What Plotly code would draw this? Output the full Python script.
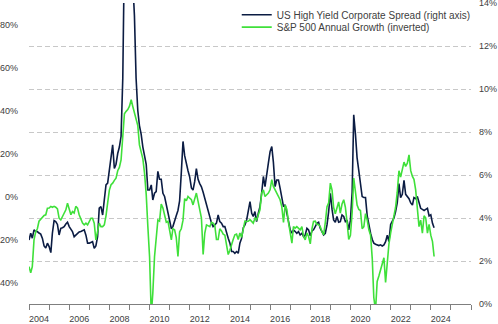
import pandas as pd
import plotly.graph_objects as go

# Monthly data, Jan 2004 - Mar 2024
spread_by_year = {
    2004: [2.98, 3.29, 3.06, 3.45, 3.37, 3.37, 3.30, 3.25, 3.05, 2.70, 2.60, 2.83],
    2005: [2.67, 2.39, 3.29, 3.88, 3.83, 3.70, 3.21, 3.52, 3.55, 3.60, 3.72, 3.80],
    2006: [3.60, 3.50, 3.37, 3.13, 3.20, 3.29, 3.35, 3.37, 3.40, 3.45, 3.20, 2.83],
    2007: [2.83, 2.85, 2.90, 2.59, 2.70, 3.13, 4.46, 4.53, 4.14, 4.84, 5.54, 5.62],
    2008: [6.20, 6.80, 7.40, 6.30, 6.50, 7.00, 7.30, 7.80, 10.5, 16.5, 19.5, 20.5],
    2009: [18.5, 17.5, 15.0, 13.4, 10.5, 9.00, 8.30, 7.90, 7.30, 6.80, 6.50, 5.30],
    2010: [5.30, 5.54, 4.84, 5.15, 5.23, 6.17, 5.80, 5.80, 5.15, 5.00, 4.60, 4.20],
    2011: [3.95, 3.50, 3.60, 3.90, 4.10, 4.35, 4.80, 6.10, 7.56, 6.90, 6.50, 6.20],
    2012: [5.90, 5.40, 5.30, 5.70, 6.30, 5.80, 5.60, 5.45, 5.20, 4.90, 4.70, 4.40],
    2013: [3.99, 3.76, 3.60, 3.70, 3.76, 4.14, 3.83, 3.76, 3.60, 3.60, 3.29, 3.06],
    2014: [2.83, 2.44, 2.44, 2.36, 2.44, 2.36, 2.83, 3.05, 3.55, 3.68, 3.91, 4.25],
    2015: [4.76, 4.22, 4.07, 4.30, 3.83, 4.22, 4.53, 5.15, 5.93, 5.46, 5.93, 6.55],
    2016: [7.09, 7.32, 6.60, 5.46, 5.77, 5.77, 5.39, 4.92, 4.53, 4.61, 4.22, 3.91],
    2017: [3.45, 3.29, 3.45, 3.37, 3.29, 3.37, 3.21, 3.29, 3.13, 3.21, 3.52, 3.45],
    2018: [3.17, 3.40, 3.45, 3.60, 3.75, 3.80, 3.52, 3.37, 3.21, 3.29, 3.68, 4.30],
    2019: [5.15, 4.40, 3.91, 3.80, 4.07, 3.80, 3.83, 4.14, 4.07, 3.83, 3.90, 3.45],
    2020: [3.90, 5.20, 8.80, 7.90, 6.80, 6.20, 5.60, 5.00, 4.95, 4.95, 4.10, 3.65],
    2021: [3.29, 3.00, 2.83, 2.78, 2.75, 2.72, 2.75, 2.70, 2.75, 2.90, 3.20, 2.90],
    2022: [3.70, 3.90, 3.99, 4.30, 4.70, 5.60, 4.95, 5.10, 5.75, 5.10, 5.00, 4.90],
    2023: [4.70, 4.60, 4.95, 4.90, 5.00, 4.70, 4.45, 4.40, 4.35, 4.40, 4.45, 4.10],
    2024: [4.15, 3.75, 3.55],
}

sp500_growth_by_year = {
    2004: [32.6, 35.5, 32.6, 20.2, 16.5, 15.0, 11.5, 10.5, 9.5, 8.8, 8.5, 5.5],
    2005: [5.4, 4.6, 5.0, 4.6, 5.0, 5.8, 10.1, 10.9, 9.3, 7.7, 6.2, 3.1],
    2006: [6.2, 8.5, 7.0, 7.7, 4.6, 5.4, 8.5, 10.9, 12.4, 13.2, 12.4, 13.2],
    2007: [11.6, 10.1, 10.1, 12.4, 20.2, 15.5, 12.4, 14.0, 14.0, 13.2, 9.0, 3.0],
    2008: [-3.0, -5.5, -6.2, -7.5, -8.5, -12.0, -13.5, -17.0, -29.5, -38.5, -39.6, -40.4],
    2009: [-42.0, -45.0, -42.0, -38.5, -36.5, -33.0, -24.0, -20.5, -17.5, -11.0, -1.0, 14.0],
    2010: [28.0, 55.0, 45.0, 28.0, 19.0, 11.0, 11.5, 3.5, 5.4, 9.0, 12.0, 11.5],
    2011: [15.5, 20.2, 15.0, 15.5, 19.0, 27.9, 16.5, 15.0, 11.0, 1.0, 2.0, 0.0],
    2012: [0.8, 1.5, 3.9, 0.8, -1.6, 2.3, 6.0, 10.0, 27.0, 17.0, 13.2, 13.6],
    2013: [14.0, 12.0, 12.4, 13.5, 20.0, 20.0, 15.0, 16.0, 17.5, 18.0, 22.0, 27.0],
    2014: [25.0, 21.7, 20.0, 17.8, 17.5, 20.0, 17.0, 19.0, 15.0, 11.5, 11.6, 11.5],
    2015: [10.8, 11.6, 12.4, 10.1, 10.8, 8.5, 6.2, -1.6, -3.1, 0.0, -0.8, -1.6],
    2016: [-3.1, -7.8, -4.7, -3.1, -2.3, 0.0, 1.5, 4.7, 12.0, 4.0, 6.0, 12.0],
    2017: [17.0, 21.7, 14.0, 14.7, 14.0, 14.7, 15.5, 14.0, 18.6, 20.2, 17.0, 18.6],
    2018: [22.0, 15.0, 11.6, 11.5, 13.0, 13.0, 14.0, 16.3, 17.8, 12.0, 4.7, 3.0],
    2019: [-6.2, -3.0, 5.0, 8.0, 5.0, 2.5, 7.7, 3.5, 1.5, 5.0, 12.0, 20.0],
    2020: [18.0, 7.5, -8.6, -1.0, 4.0, 6.0, 6.5, 15.0, 14.0, 8.0, 11.0, 15.5],
    2021: [18.0, 29.0, 47.0, 53.0, 39.5, 37.0, 34.3, 30.5, 28.5, 40.0, 28.5, 22.0],
    2022: [17.0, 13.0, 10.0, 5.0, -2.0, -12.0, -9.0, -12.0, -16.0, -14.0, -15.5, -19.4],
    2023: [-12.0, -9.3, -8.0, -3.1, 4.0, 14.0, 11.0, 17.0, 9.0, 10.0, 17.0, 13.0],
    2024: [18.0, 21.0, 27.9],
}

spread = [v for y in sorted(spread_by_year) for v in spread_by_year[y]]
sp500_growth = [v for y in sorted(sp500_growth_by_year) for v in sp500_growth_by_year[y]]
dates = pd.date_range("2004-01-01", periods=len(spread), freq="MS")

left_tickvals = [-80, -60, -40, -20, 0, 20, 40]
left_ticktext = ["-80%", "-60%", "-40%", "-20%", "0%", "20%", "40%"]
right_tickvals = [0, 2, 4, 6, 8, 10, 12, 14]
right_ticktext = ["0%", "2%", "4%", "6%", "8%", "10%", "12%", "14%"]

NAVY = "#0b1c43"
GREEN = "#3fe03a"
TEXT = "#404040"
FONT = "Liberation Sans"
LEGEND_FONT = dict(family="Liberation Sans Narrow, " + FONT, size=10, color=TEXT)

fig = go.Figure()
fig.add_trace(go.Scatter(
    x=dates, y=spread, yaxis="y", mode="lines",
    name="US High Yield Corporate Spread (right axis)",
    line=dict(color=NAVY, width=1.6), legend="legend",
))
fig.add_trace(go.Scatter(
    x=dates, y=sp500_growth, yaxis="y2", mode="lines",
    name="S&P 500 Annual Growth (inverted)",
    line=dict(color=GREEN, width=1.6), legend="legend2",
))

fig.update_layout(
    width=498, height=324,
    margin=dict(l=29, r=27, t=3, b=20, autoexpand=False),
    paper_bgcolor="white", plot_bgcolor="white",
    font=dict(family=FONT, size=9, color=TEXT),
    showlegend=True,
    legend=dict(
        x=0.47, y=1.009, xanchor="left", yanchor="top",
        bgcolor="rgba(0,0,0,0)", borderwidth=0,
        font=LEGEND_FONT, itemwidth=30,
    ),
    legend2=dict(
        x=0.47, y=0.968, xanchor="left", yanchor="top",
        bgcolor="rgba(0,0,0,0)", borderwidth=0,
        font=LEGEND_FONT, itemwidth=30,
    ),
    xaxis=dict(
        type="date",
        range=["2004-01-01", "2026-01-01"],
        tick0="2004-01-01", dtick="M12",
        tickformat="%Y", ticklabelmode="period", ticklabelstep=2,
        ticks="outside", ticklen=5, tickcolor="#7f7f7f",
        showline=True, linecolor="#7f7f7f", linewidth=1,
        showgrid=False, zeroline=False,
        ticklabelstandoff=1, automargin=False, ticklabeloverflow="allow",
        tickfont=dict(family=FONT, size=9, color=TEXT),
    ),
    yaxis=dict(
        side="right", range=[-0.0001, 14.0001],
        tickvals=right_tickvals, ticktext=right_ticktext,
        showgrid=True, gridcolor="#c8c8c8", gridwidth=1, griddash="5px,3px",
        zeroline=False, showline=False, ticks="",
        ticklabelstandoff=7, automargin=False, ticklabeloverflow="allow",
        tickfont=dict(family=FONT, size=9, color=TEXT),
    ),
    yaxis2=dict(
        side="left", overlaying="y", range=[50, -90],
        tickvals=left_tickvals, ticktext=left_ticktext,
        showgrid=False, zeroline=False, showline=False, ticks="",
        ticklabelstandoff=10, automargin=False, ticklabeloverflow="allow",
        tickfont=dict(family=FONT, size=9, color=TEXT),
    ),
)

fig.write_html("out.html")
